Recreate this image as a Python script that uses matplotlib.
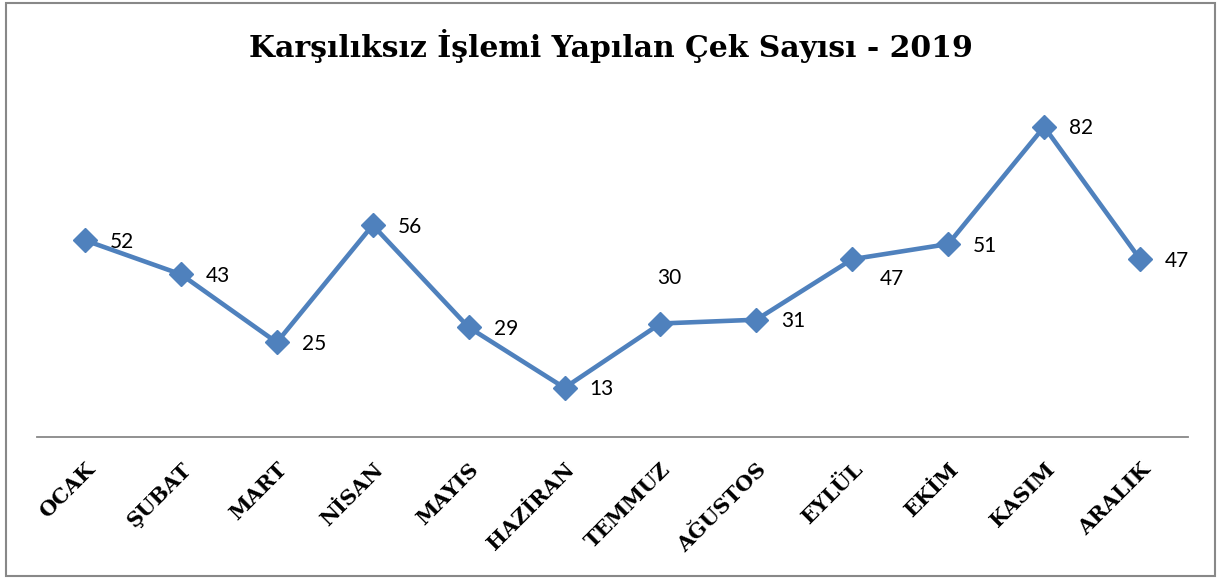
import matplotlib.pyplot as plt
from matplotlib.patches import Rectangle
from matplotlib.transforms import ScaledTranslation

months = ["OCAK", "ŞUBAT", "MART", "NİSAN", "MAYIS", "HAZİRAN",
          "TEMMUZ", "AĞUSTOS", "EYLÜL", "EKİM", "KASIM", "ARALIK"]
counts = [52, 43, 25, 56, 29, 13, 30, 31, 47, 51, 82, 47]
title = "Karşılıksız İşlemi Yapılan Çek Sayısı - 2019"

line_color = "#4F81BD"

fig = plt.figure(figsize=(12.21, 5.79), dpi=100)
fig.patch.set_facecolor("white")
ax = fig.add_axes([37 / 1221, 1 - 437 / 579, (1188 - 37) / 1221, (437 - 96.5) / 579])

x = list(range(len(months)))
ax.plot(x, counts, color=line_color, lw=3.3, marker="D", ms=12,
        markerfacecolor=line_color, markeredgecolor=line_color, zorder=3)

# labels sit to the right of each point; a few are nudged off the line
label_offsets = {"TEMMUZ": (6, 33, "center"), "EYLÜL": (19.5, -14.5, "left")}
for i, v in enumerate(counts):
    dx, dy, ha = label_offsets.get(months[i], (18, -1.2, "left"))
    ax.annotate(str(v), (i, v), xytext=(dx, dy), textcoords="offset points",
                ha=ha, va="center", fontsize=15, family="Lato")

ax.set_xlim(-0.5, len(months) - 0.5)
ax.set_ylim(0, 90)
ax.set_yticks([])
ax.set_xticks(x)
ax.set_xticklabels(months, rotation=45, ha="right", rotation_mode="anchor",
                   fontsize=15, fontweight="bold", family="DejaVu Serif")
shift = ScaledTranslation(-5 / 100, 0, fig.dpi_scale_trans)
for lbl in ax.get_xticklabels():
    lbl.set_transform(lbl.get_transform() + shift)
ax.tick_params(axis="x", length=0, pad=16)
for side in ("top", "left", "right"):
    ax.spines[side].set_visible(False)
ax.spines["bottom"].set_color("#888888")
ax.spines["bottom"].set_linewidth(1.3)
ax.patch.set_visible(False)

fig.text(0.5, 1 - 46 / 579, title, ha="center", va="center",
         fontsize=21.5, fontweight="bold", family="DejaVu Serif")

fig.patches.append(Rectangle((6 / 1221, 3 / 579), (1215 - 6) / 1221, (576 - 3) / 579,
                             transform=fig.transFigure, fill=False,
                             edgecolor="#888888", lw=1.5))

fig.savefig("out.png", dpi=100)
